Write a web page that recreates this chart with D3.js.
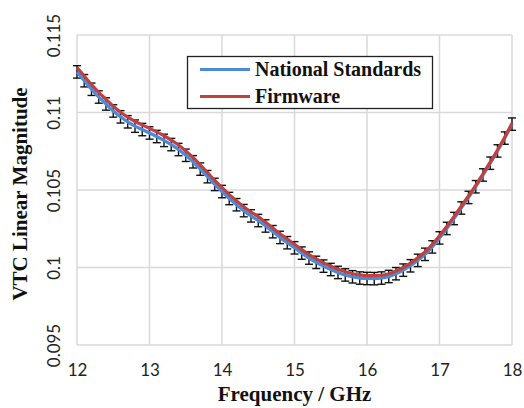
<!DOCTYPE html>
<html>
<head>
<meta charset="utf-8">
<script src="https://cdn.jsdelivr.net/npm/d3@7"></script>
<style>
  html, body { margin: 0; padding: 0; background: #fff; }
  svg { display: block; }
</style>
</head>
<body>
<svg id="chart" width="524" height="408"></svg>
<script>
// Frequency points (GHz)
const frequency = [
  12.0, 12.1, 12.2, 12.3, 12.4, 12.5, 12.6, 12.7, 12.8, 12.9,
  13.0, 13.1, 13.2, 13.3, 13.4, 13.5, 13.6, 13.7, 13.8, 13.9,
  14.0, 14.1, 14.2, 14.3, 14.4, 14.5, 14.6, 14.7, 14.8, 14.9,
  15.0, 15.1, 15.2, 15.3, 15.4, 15.5, 15.6, 15.7, 15.8, 15.9,
  16.0, 16.1, 16.2, 16.3, 16.4, 16.5, 16.6, 16.7, 16.8, 16.9,
  17.0, 17.1, 17.2, 17.3, 17.4, 17.5, 17.6, 17.7, 17.8, 17.9,
  18.0
];

// Firmware measurement
const firmware = [
  0.11290, 0.11235, 0.11180, 0.11130, 0.11085, 0.11040, 0.11002, 0.10970, 0.10942, 0.10920,
  0.10898, 0.10875, 0.10850, 0.10822, 0.10790, 0.10752, 0.10710, 0.10662, 0.10612, 0.10562,
  0.10515, 0.10470, 0.10430, 0.10392, 0.10358, 0.10328, 0.10292, 0.10255, 0.10218, 0.10183,
  0.10150, 0.10115, 0.10083, 0.10055, 0.10030, 0.10008, 0.09988, 0.09972, 0.09960, 0.09952,
  0.09948, 0.09947, 0.09950, 0.09960, 0.09978, 0.10000, 0.10028, 0.10062, 0.10100, 0.10148,
  0.10205, 0.10265, 0.10328, 0.10395, 0.10462, 0.10530, 0.10605, 0.10680, 0.10758, 0.10840,
  0.10930
];

// National Standards reference
const nationalStandards = [
  0.11262, 0.11205, 0.11150, 0.11100, 0.11055, 0.11010, 0.10972, 0.10940, 0.10912, 0.10890,
  0.10868, 0.10845, 0.10820, 0.10793, 0.10761, 0.10724, 0.10682, 0.10635, 0.10586, 0.10536,
  0.10490, 0.10445, 0.10405, 0.10367, 0.10333, 0.10303, 0.10268, 0.10231, 0.10194, 0.10160,
  0.10127, 0.10093, 0.10061, 0.10033, 0.10009, 0.09987, 0.09968, 0.09952, 0.09940, 0.09932,
  0.09929, 0.09928, 0.09932, 0.09942, 0.09960, 0.09983, 0.10011, 0.10046, 0.10085, 0.10133,
  0.10191, 0.10252, 0.10316, 0.10384, 0.10452, 0.10521, 0.10597, 0.10673, 0.10752, 0.10835,
  0.10925
];

// Fixed-value error bar applied to the National Standards series
const errorMargin = 0.0004;

const xTicks = [12, 13, 14, 15, 16, 17, 18];
const yTicks = [0.095, 0.1, 0.105, 0.11, 0.115];
const yTickLabels = ["0.095", "0.1", "0.105", "0.11", "0.115"];

const seriesNames = ["National Standards", "Firmware"];
const seriesColors = ["#4a8ad8", "#c0403d"];

const svg = d3.select("#chart");
const plot = { left: 77, right: 512, top: 35, bottom: 345 };
const serif = "'Liberation Serif', 'Times New Roman', serif";

const x = d3.scaleLinear().domain([12, 18]).range([plot.left, plot.right]);
const y = d3.scaleLinear().domain([0.095, 0.115]).range([plot.bottom, plot.top]);

// Gridlines
const grid = svg.append("g").attr("class", "grid");
grid.selectAll("line.v").data(xTicks).join("line")
  .attr("x1", d => x(d)).attr("x2", d => x(d))
  .attr("y1", plot.top).attr("y2", plot.bottom)
  .attr("stroke", "#d9d9d9").attr("stroke-width", 1.5);
grid.selectAll("line.h").data(yTicks).join("line")
  .attr("x1", plot.left).attr("x2", plot.right)
  .attr("y1", d => y(d)).attr("y2", d => y(d))
  .attr("stroke", "#d9d9d9").attr("stroke-width", 1.5);

// Axes (labels only, as rendered by d3-axis)
const xAxis = svg.append("g")
  .attr("transform", `translate(0,${plot.bottom})`)
  .call(d3.axisBottom(x).tickValues(xTicks).tickSize(0).tickPadding(19).tickFormat(d3.format("d")));
xAxis.select(".domain").remove();
xAxis.selectAll("text")
  .attr("font-family", "Lato, 'Open Sans', sans-serif")
  .attr("font-size", 17).attr("fill", "#222");

const yAxis = svg.append("g")
  .attr("transform", `translate(${plot.left},0)`)
  .call(d3.axisLeft(y).tickValues(yTicks).tickSize(0).tickFormat((d, i) => yTickLabels[i]));
yAxis.select(".domain").remove();
yAxis.selectAll("text")
  .attr("font-family", "Lato, 'Open Sans', sans-serif")
  .attr("font-size", 17).attr("fill", "#222")
  .attr("text-anchor", "middle")
  .attr("dy", 0)
  .attr("x", 0)
  .attr("transform", "translate(-24,0) rotate(-90)")
  .attr("dominant-baseline", "central");

// Error bars
const caps = 4;
const eb = svg.append("g").attr("class", "error-bars")
  .attr("stroke", "#111").attr("stroke-width", 1.4);
frequency.forEach((f, i) => {
  const cx = x(f);
  const yHi = y(nationalStandards[i] + errorMargin);
  const yLo = y(nationalStandards[i] - errorMargin);
  eb.append("line").attr("x1", cx).attr("x2", cx).attr("y1", yHi).attr("y2", yLo);
  eb.append("line").attr("x1", cx - caps).attr("x2", cx + caps).attr("y1", yHi).attr("y2", yHi);
  eb.append("line").attr("x1", cx - caps).attr("x2", cx + caps).attr("y1", yLo).attr("y2", yLo);
});

// Series lines
const line = d3.line().x((d, i) => x(frequency[i])).y(d => y(d)).curve(d3.curveMonotoneX);
[nationalStandards, firmware].forEach((vals, k) => {
  svg.append("path").datum(vals)
    .attr("d", line)
    .attr("fill", "none")
    .attr("stroke", seriesColors[k])
    .attr("stroke-width", 3.2)
    .attr("stroke-linejoin", "round");
});

// Axis titles
svg.append("text")
  .attr("x", 294.5).attr("y", 401)
  .attr("text-anchor", "middle")
  .attr("font-family", serif)
  .attr("font-weight", "bold").attr("font-size", 21).attr("fill", "#111")
  .text("Frequency / GHz");

svg.append("text")
  .attr("transform", "translate(27,194) rotate(-90)")
  .attr("text-anchor", "middle")
  .attr("font-family", serif)
  .attr("font-weight", "bold").attr("font-size", 21).attr("fill", "#111")
  .text("VTC Linear Magnitude");

// Legend
const legend = svg.append("g").attr("class", "legend");
legend.append("rect")
  .attr("x", 187.5).attr("y", 56.5).attr("width", 245).attr("height", 52)
  .attr("fill", "#fff").attr("stroke", "#222").attr("stroke-width", 1.3);
seriesNames.forEach((name, k) => {
  const ly = 69.5 + k * 27;
  legend.append("line")
    .attr("x1", 200).attr("x2", 250).attr("y1", ly).attr("y2", ly)
    .attr("stroke", seriesColors[k]).attr("stroke-width", 3.2);
  legend.append("text")
    .attr("x", 255).attr("y", ly + 6.5)
    .attr("font-family", serif)
    .attr("font-weight", "bold").attr("font-size", 20).attr("fill", "#111")
    .text(name);
});
</script>
</body>
</html>
